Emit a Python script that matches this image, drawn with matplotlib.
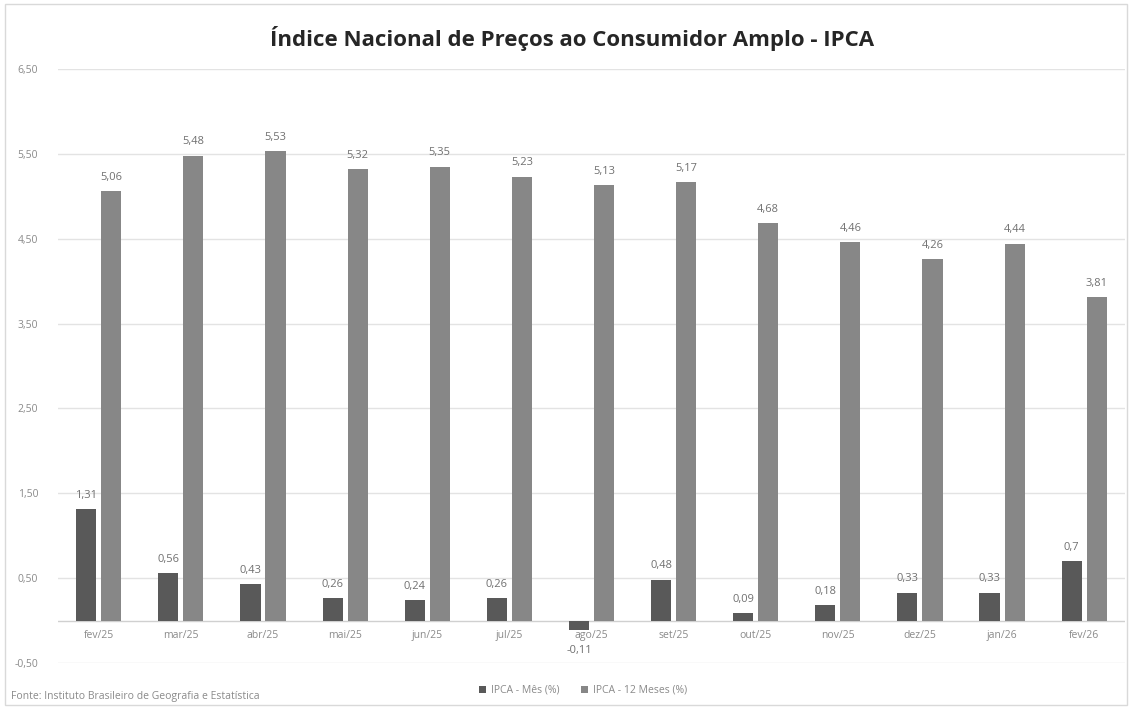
import numpy as np
import matplotlib.pyplot as plt
from matplotlib.patches import Rectangle

meses = ["fev/25", "mar/25", "abr/25", "mai/25", "jun/25", "jul/25", "ago/25",
         "set/25", "out/25", "nov/25", "dez/25", "jan/26", "fev/26"]
ipca_mes = [1.31, 0.56, 0.43, 0.26, 0.24, 0.26, -0.11, 0.48, 0.09, 0.18, 0.33, 0.33, 0.7]
ipca_12m = [5.06, 5.48, 5.53, 5.32, 5.35, 5.23, 5.13, 5.17, 4.68, 4.46, 4.26, 4.44, 3.81]
y_ticks = [-0.5, 0.5, 1.5, 2.5, 3.5, 4.5, 5.5, 6.5]

cor_mes = "#595959"
cor_12m = "#878787"
cinza_txt = "#8a8a8a"

plt.rcParams['font.family'] = ['Open Sans', 'DejaVu Sans']

fig = plt.figure(figsize=(11.32, 7.08), dpi=100)
ax = fig.add_axes([0.051, 0.0636, 0.943, 0.8389])

x = np.arange(len(meses))
w = 0.245
gap = 0.06
b1 = ax.bar(x - w / 2 - gap / 2, ipca_mes, w, color=cor_mes, label="IPCA - Mês (%)", zorder=3)
b2 = ax.bar(x + w / 2 + gap / 2, ipca_12m, w, color=cor_12m, label="IPCA - 12 Meses (%)", zorder=3)

def fmt(v):
    return str(v).replace(".", ",")

for rect, v in zip(b1, ipca_mes):
    cx = rect.get_x() + rect.get_width() / 2
    if v >= 0:
        ax.annotate(fmt(v), (cx, v), xytext=(0, 6), textcoords="offset points",
                    ha="center", va="bottom", fontsize=8, color="#707070")
    else:
        # negative value: label goes under the month name
        ax.annotate(fmt(v), (cx, v), xytext=(0, -11), textcoords="offset points",
                    ha="center", va="top", fontsize=8, color="#707070")
for rect, v in zip(b2, ipca_12m):
    cx = rect.get_x() + rect.get_width() / 2
    ax.annotate(fmt(v), (cx, v), xytext=(0, 6), textcoords="offset points",
                ha="center", va="bottom", fontsize=8, color="#707070")

# month labels sit just below the zero line, inside the plot
for xi, m in zip(x, meses):
    ax.text(xi, -0.18, m, ha="center", va="center", fontsize=7.5, color=cinza_txt)

ax.axhline(0, color="#d0d0d0", linewidth=1, zorder=2)
ax.set_ylim(-0.5, 6.5)
ax.set_xlim(-0.5, 12.5)
ax.set_yticks(y_ticks)
ax.set_yticklabels([f"{t:.2f}".replace(".", ",") for t in y_ticks], fontsize=7.5, color=cinza_txt)
ax.set_xticks([])
ax.tick_params(axis="y", length=0, pad=14)
ax.grid(axis="y", color="#e3e3e3", linewidth=1, zorder=0)
for s in ax.spines.values():
    s.set_visible(False)

fig.text(0.505, 0.946, "Índice Nacional de Preços ao Consumidor Amplo - IPCA",
         ha="center", va="center", fontsize=16, fontweight="bold", color="#262626")

fig.legend(loc="center", bbox_to_anchor=(0.515, 0.025), ncol=2, frameon=False,
           fontsize=7.5, labelcolor=cinza_txt, handlelength=0.7, handleheight=0.7,
           columnspacing=2.0, handletextpad=0.5)

fig.text(0.01, 0.008, "Fonte: Instituto Brasileiro de Geografia e Estatística",
         ha="left", va="bottom", fontsize=7.5, color=cinza_txt)

fig.patches.append(Rectangle((0.004, 0.004), 0.992, 0.99, transform=fig.transFigure,
                             fill=False, edgecolor="#d9d9d9", linewidth=1))

fig.savefig("out.png", dpi=100)
